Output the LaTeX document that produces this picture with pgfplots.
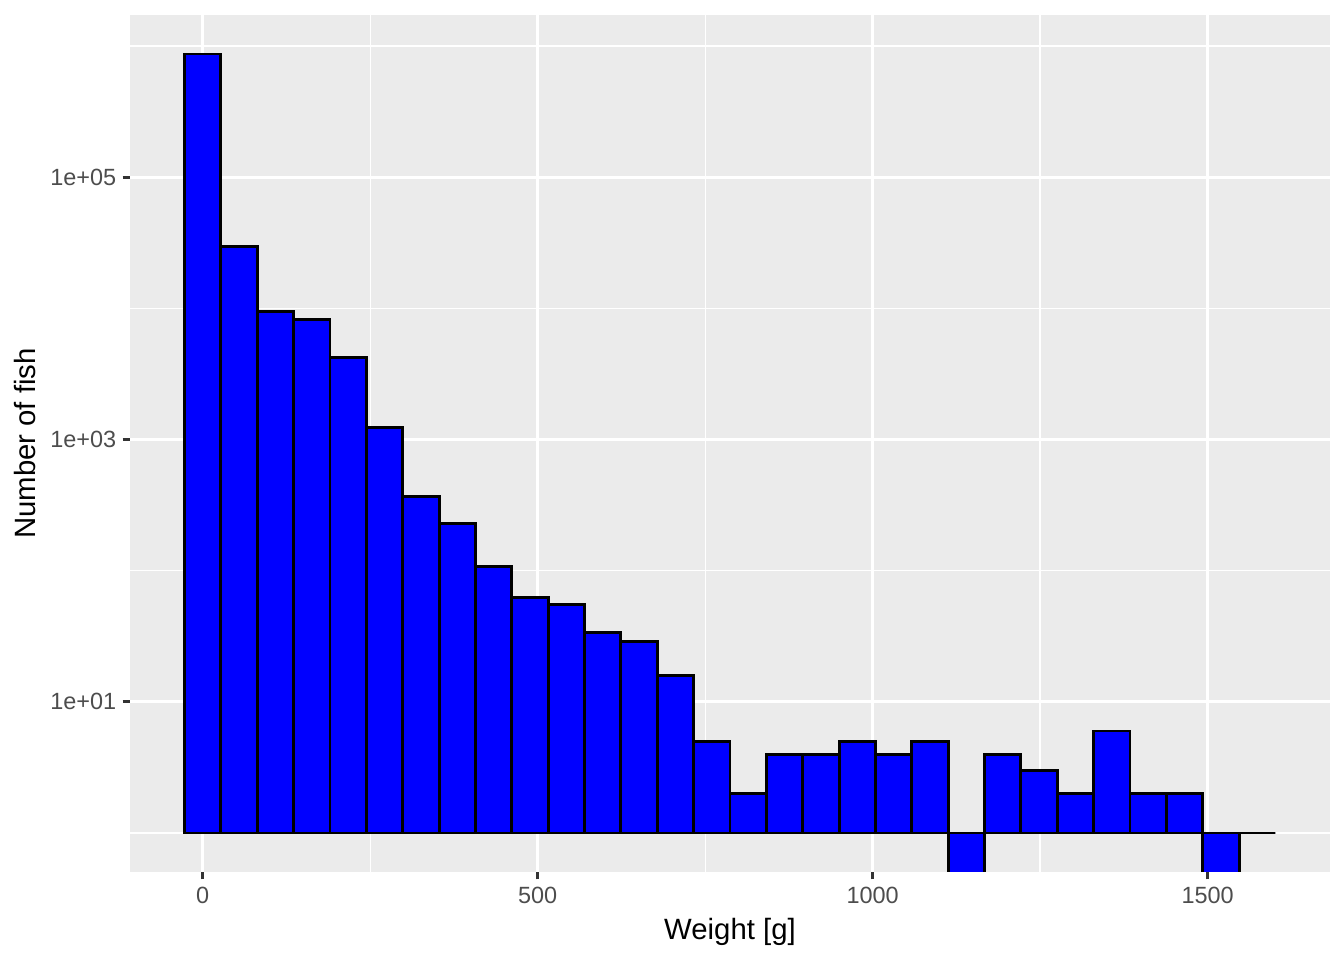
\documentclass[border=0pt]{standalone}
\usepackage{pgfplots}
\pgfplotsset{compat=1.18}
\usepackage{fontspec}
\setmainfont{Liberation Sans}
\usetikzlibrary{calc}
\definecolor{grey92}{HTML}{EBEBEB}
\definecolor{grey30}{HTML}{4D4D4D}
\definecolor{grey20}{HTML}{333333}
\begin{document}
\begin{tikzpicture}
\begin{axis}[
  scale only axis, width=450pt, height=321.375pt,
  ymode=log, log origin y=0,
  xmin=-108.55, xmax=1682.55, ymin=0.5047, ymax=1.73e6,
  axis background/.style={fill=grey92},
  axis line style={draw=none},
  xtick={0,500,1000,1500}, xticklabels={0,500,1000,1500},
  minor xtick={250,750,1250},
  ytick={10,1000,100000}, yticklabels={1e+01,1e+03,1e+05},
  minor ytick={1,100,10000,1000000},
  x tick label as interval=false,
  grid=both,
  major grid style={white, line width=1.07pt},
  minor grid style={white, line width=0.53pt},
  tick align=outside, tick pos=left,
  major tick length=2.75pt, minor tick length=0pt,
  every tick/.style={grey20, line width=1.07pt},
  tick label style={font=\fontsize{8.8}{10}\selectfont, text=grey30},
  xticklabel style={anchor=north, inner sep=0pt, yshift=-2.8pt},
  yticklabel style={anchor=east, inner sep=0pt, xshift=-2.2pt},
  xlabel={Weight [g]}, ylabel={Number of fish},
  every axis y label/.style={at={(axis description cs:-0.0875,0.5)}, rotate=90, anchor=center, font=\fontsize{11}{13}\selectfont},
  every axis x label/.style={at={(axis description cs:0.5,-0.0700)}, anchor=center, font=\fontsize{11}{13}\selectfont},
]
\addplot[ybar interval, fill=blue, draw=black, line width=1.07pt] coordinates {
(-27.138, 873000)
(27.138, 29500)
(81.414, 9530)
(135.690, 8250)
(189.966, 4200)
(244.241, 1233)
(298.517, 369)
(352.793, 230)
(407.069, 108)
(461.345, 63)
(515.621, 55)
(569.897, 34)
(624.172, 29)
(678.448, 16)
(732.724, 5)
(787.000, 2)
(841.276, 4)
(895.552, 4)
(949.828, 5)
(1004.103, 4)
(1058.379, 5)
(1112.655, 0.01)
(1166.931, 4)
(1221.207, 3)
(1275.483, 2)
(1329.759, 6)
(1384.034, 2)
(1438.310, 2)
(1492.586, 0.01)
(1546.862, 1)
(1601.138, 1)
};
\coordinate (SW) at (rel axis cs:0,0);
\coordinate (NE) at (rel axis cs:1,1);
\end{axis}
\pgfresetboundingbox
\path[use as bounding box] ($(SW)+(-48.75pt,-33pt)$) rectangle ($(NE)+(5.25pt,5.625pt)$);
\end{tikzpicture}
\end{document}
